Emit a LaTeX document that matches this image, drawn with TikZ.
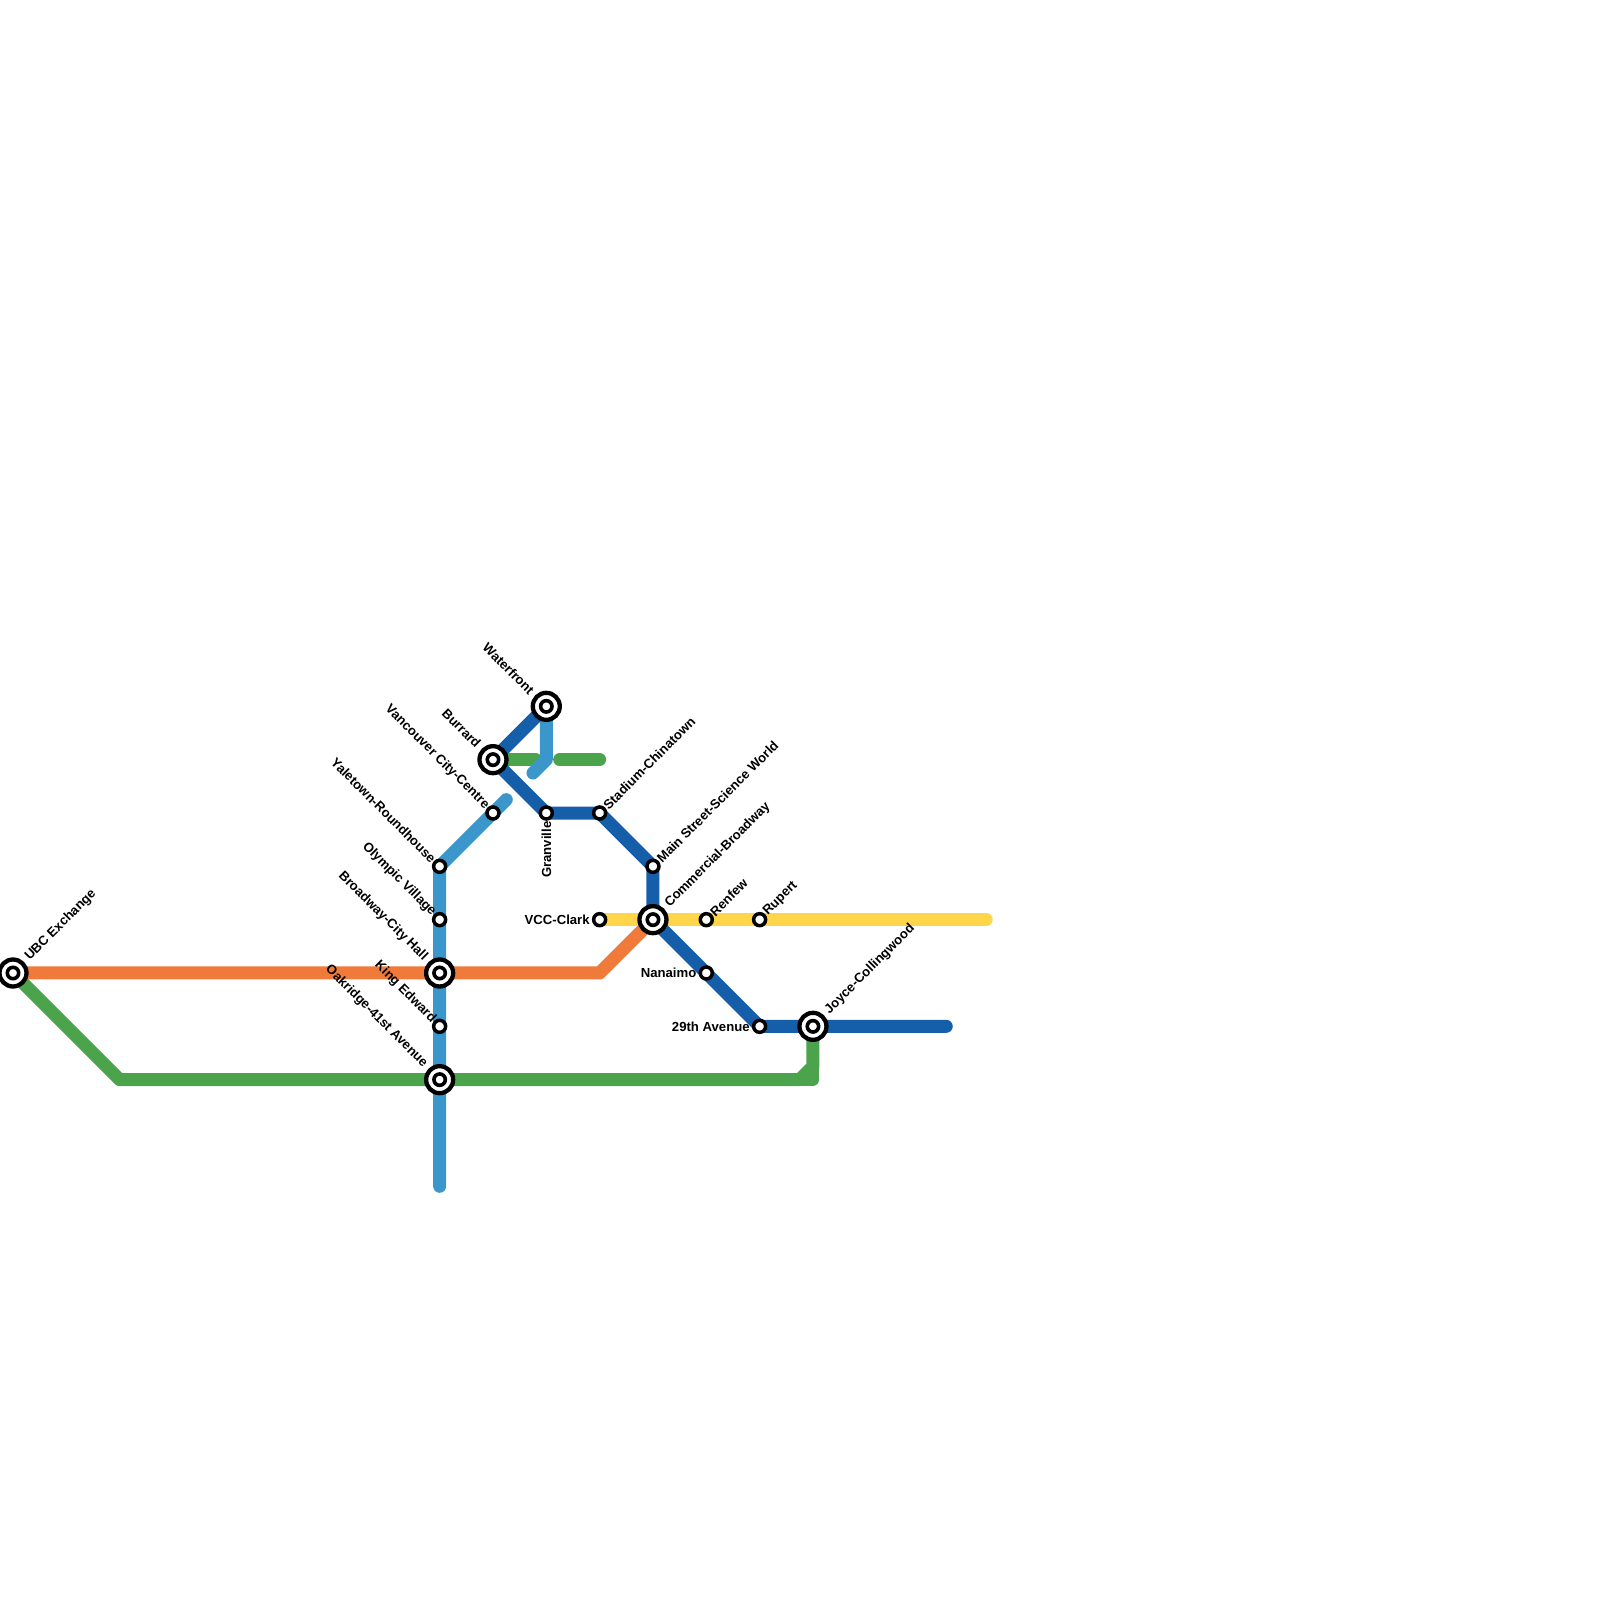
\documentclass[tikz,border=0pt]{standalone}
\usepackage{fontspec}
\setmainfont{Liberation Sans}
\usetikzlibrary{backgrounds}
\definecolor{expo}{HTML}{155EA9}
\definecolor{canada}{HTML}{3A96CB}
\definecolor{rapid}{HTML}{F07A3A}
\definecolor{crosstown}{HTML}{4BA34B}
\definecolor{millennium}{HTML}{FFD54A}
\tikzset{
  stn/.style={circle,draw=black,fill=white,line width=.035cm,minimum size=.12cm,inner sep=0pt},
  hub/.style={circle,draw=black,fill=white,line width=.043cm,minimum size=.27cm,inner sep=0pt,
    path picture={\draw[line width=.036cm] (path picture bounding box.center) circle (.057cm);}},
  tube/.style={line width=.13cm,line cap=round,line join=round},
  lab/.style={font=\fontsize{3.74pt}{4pt}\selectfont\bfseries,inner sep=0pt,text=black},
  labne/.style={lab,anchor=west,rotate=45},
  labnw/.style={lab,anchor=east,rotate=-45},
  labw/.style={lab,anchor=east,inner xsep=.015cm},
  labs/.style={lab,anchor=east,rotate=90},
  hubgap/.style={inner xsep=.04cm}
}
\begin{document}
\begin{tikzpicture}[x=.5333cm,y=.5333cm]
\path[use as bounding box] (-.13cm,-6.27cm) rectangle (15.87cm,9.73cm);

\node [hub] (ubc) at (0,0) {};
\node [hub] (broadway) at (8,0) {};
\node [hub] (oakridge) at (8,-2) {};
\node [hub] (burrard) at (9,4) {};
\node [hub] (waterfront) at (10,5) {};
\node [hub] (commercial) at (12,1) {};
\node [hub] (joyce) at (15,-1) {};

\node [stn] (yaletown) at (8,2) {};
\node [stn] (olympic) at (8,1) {};
\node [stn] (kingedward) at (8,-1) {};
\node [stn] (vancity) at (9,3) {};
\node [stn] (granville) at (10,3) {};
\node [stn] (stadium) at (11,3) {};
\node [stn] (mainst) at (12,2) {};
\node [stn] (vcc) at (11,1) {};
\node [stn] (renfrew) at (13,1) {};
\node [stn] (rupert) at (14,1) {};
\node [stn] (nanaimo) at (13,0) {};
\node [stn] (ave29) at (14,-1) {};

\coordinate (ubcturn) at (2,-2);
\coordinate (greencorner) at (15,-2);
\coordinate (greenbevela) at (14.75,-2);
\coordinate (greenbevelb) at (15,-1.75);
\coordinate (stubae) at (9.8,4);
\coordinate (stubba) at (10.25,4);
\coordinate (stubbe) at (11,4);
\coordinate (canadaend) at (8,-4);
\coordinate (canadaup) at (9.25,3.25);
\coordinate (wfturn) at (10,4);
\coordinate (wfend) at (9.75,3.75);
\coordinate (expoend) at (17.5,-1);
\coordinate (yellowend) at (18.25,1);
\coordinate (orangeturn) at (11,0);

\begin{pgfonlayer}{background}
\draw [tube,crosstown] (ubc.center)--(ubcturn)--(oakridge.center)--(greenbevela)--(greenbevelb)--(joyce.center);
\draw [tube,crosstown,line cap=butt] (greenbevela)--(greencorner)--(greenbevelb);
\draw [tube,crosstown] (burrard.center)--(stubae);
\draw [tube,crosstown] (stubba)--(stubbe);
\draw [tube,canada] (canadaend)--(oakridge.center)--(yaletown.center)--(canadaup);
\draw [tube,canada] (waterfront.center)--(wfturn)--(wfend);
\draw [tube,rapid] (ubc.center)--(orangeturn)--(commercial.center);
\draw [tube,millennium] (vcc.center)--(yellowend);
\draw [tube,expo] (waterfront.center)--(burrard.center)--(granville.center)--(stadium.center)--(mainst.center)--(commercial.center)--(ave29.center)--(expoend);
\end{pgfonlayer}

\node [labne,hubgap] (ubcl) at (ubc.45) {UBC Exchange};
\node [labne] (stadiuml) at (stadium.45) {Stadium-Chinatown};
\node [labne] (mainstl) at (mainst.45) {Main Street-Science World};
\node [labne,hubgap] (commerciall) at (commercial.45) {Commercial-Broadway};
\node [labne] (renfrewl) at (renfrew.45) {Renfew};
\node [labne] (rupertl) at (rupert.45) {Rupert};
\node [labne,hubgap] (joycel) at (joyce.45) {Joyce-Collingwood};

\node [labnw,hubgap] (waterfrontl) at (waterfront.135) {Waterfront};
\node [labnw,hubgap] (burrardl) at (burrard.135) {Burrard};
\node [labnw] (vancityl) at (vancity.135) {Vancouver City-Centre};
\node [labnw] (yaletownl) at (yaletown.135) {Yaletown-Roundhouse};
\node [labnw] (olympicl) at (olympic.135) {Olympic Village};
\node [labnw,hubgap] (broadwayl) at (broadway.135) {Broadway-City Hall};
\node [labnw] (kingedwardl) at (kingedward.135) {King Edward};
\node [labnw,hubgap] (oakridgel) at (oakridge.135) {Oakridge-41st Avenue};

\node [labw] (vccl) at (vcc.west) {VCC-Clark};
\node [labw] (nanaimol) at (nanaimo.west) {Nanaimo};
\node [labw] (ave29l) at (ave29.west) {29th Avenue};
\node [labs] (granvillel) at (granville.south) {Granville};
\end{tikzpicture}
\end{document}
